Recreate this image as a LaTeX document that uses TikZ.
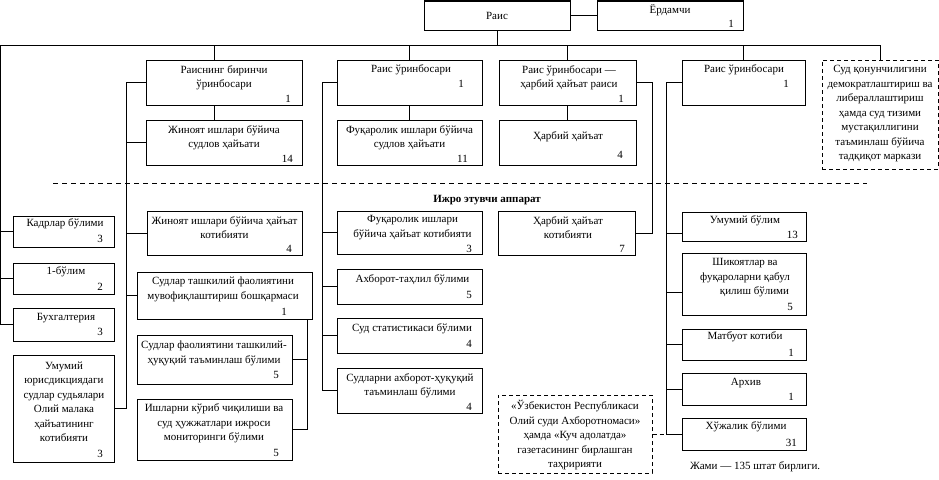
\documentclass[tikz,border=0pt]{standalone}
\usepackage{fontspec}
\setmainfont{Liberation Serif}
\begin{document}
\begin{tikzpicture}[x=1pt, y=-1pt,
  box/.style={draw, line width=1pt, inner sep=0pt},
  dbox/.style={box, dash pattern=on 4pt off 3pt},
  txt/.style={align=center, inner sep=0pt, font=\fontsize{11}{14.5}\selectfont},
  num/.style={anchor=east, inner sep=0pt, font=\fontsize{11}{14.5}\selectfont},
  link/.style={line width=1pt}]

\useasboundingbox (0,0) rectangle (939,479);

% Top
\node[box, minimum width=146, minimum height=29] (rais) at (497,15.5) {};
\node[txt] (rais-t) at (497,16) {Раис};
\node[box, minimum width=146, minimum height=29] (yord) at (670,15.5) {};
\node[txt] (yord-t) at (670,10) {Ёрдамчи};
\node[num] (yord-n) at (734,24) {1};

% Deputies
\node[box, minimum width=156, minimum height=45] (fd) at (224,82.5) {};
\node[txt] (fd-t) at (224,77.5) {Раиснинг биринчи\\ ўринбосари};
\node[num] (fd-n) at (291,99) {1};
\node[box, minimum width=145, minimum height=45] (d1) at (409.5,82.5) {};
\node[txt] (d1-t) at (411,70) {Раис ўринбосари};
\node[num] (d1-n) at (464,84) {1};
\node[box, minimum width=137, minimum height=45] (dm) at (567.5,82.5) {};
\node[txt] (dm-t) at (569,77.5) {Раис ўринбосари —\\ ҳарбий ҳайъат раиси};
\node[num] (dm-n) at (624,99) {1};
\node[box, minimum width=123, minimum height=45] (d2) at (743.5,82.5) {};
\node[txt] (d2-t) at (744,70) {Раис ўринбосари};
\node[num] (d2-n) at (789,84) {1};
\node[dbox, minimum width=116, minimum height=109] (rc) at (880,114.5) {};
\node[txt] (rc-t) at (880,114) {Суд қонунчилигини\\ демократлаштириш ва\\ либераллаштириш\\ ҳамда суд тизими\\ мустақиллигини\\ таъминлаш бўйича\\ тадқиқот маркази};

% Boards
\node[box, minimum width=156, minimum height=45] (fc) at (224,142.5) {};
\node[txt] (fc-t) at (224,137.5) {Жиноят ишлари бўйича\\ судлов ҳайъати};
\node[num] (fc-n) at (293,159) {14};
\node[box, minimum width=145, minimum height=45] (cc) at (409.5,142.5) {};
\node[txt] (cc-t) at (409.5,137.5) {Фуқаролик ишлари бўйича\\ судлов ҳайъати};
\node[num] (cc-n) at (468,159) {11};
\node[box, minimum width=137, minimum height=45] (mc) at (567.5,142.5) {};
\node[txt] (mc-t) at (568,137) {Ҳарбий ҳайъат};
\node[num] (mc-n) at (623,155) {4};

% Separator
\draw[link, dash pattern=on 5pt off 4pt] (53,183) -- (867,183);
\node[txt, font=\fontsize{11}{14.5}\selectfont\bfseries] (apparat) at (487,200) {Ижро этувчи аппарат};

% Left column
\node[box, minimum width=101, minimum height=31] (kb) at (63.5,231.5) {};
\node[txt] (kb-t) at (65,224) {Кадрлар бўлими};
\node[num] (kb-n) at (103,239) {3};
\node[box, minimum width=101, minimum height=31] (b1) at (63.5,278.5) {};
\node[txt] (b1-t) at (66,272) {1-бўлим};
\node[num] (b1-n) at (103,287) {2};
\node[box, minimum width=101, minimum height=33] (bx) at (63.5,324.5) {};
\node[txt] (bx-t) at (66,318) {Бухгалтерия};
\node[num] (bx-n) at (103,332) {3};
\node[box, minimum width=101, minimum height=107] (uj) at (63.5,408.5) {};
\node[txt] (uj-t) at (64,402) {Умумий\\ юрисдикциядаги\\ судлар судьялари\\ Олий малака\\ ҳайъатининг\\ котибияти};
\node[num] (uj-n) at (103,454) {3};

% First deputy column
\node[box, minimum width=155, minimum height=44] (fs) at (224.5,233) {};
\node[txt] (fs-t) at (224.5,227.5) {Жиноят ишлари бўйича ҳайъат\\ котибияти};
\node[num] (fs-n) at (292,249) {4};
\node[box, minimum width=175, minimum height=47] (st) at (224.5,295.5) {};
\node[txt] (st-t) at (223,289.5) {Судлар ташкилий фаолиятини\\ мувофиқлаштириш бошқармаси};
\node[num] (st-n) at (287,312) {1};
\node[box, minimum width=155, minimum height=49] (sf) at (214.5,359.5) {};
\node[txt] (sf-t) at (214,353.5) {Судлар фаолиятини ташкилий-\\ҳуқуқий таъминлаш бўлими};
\node[num] (sf-n) at (279,375) {5};
\node[box, minimum width=155, minimum height=61] (ik) at (214.5,429.5) {};
\node[txt] (ik-t) at (214,423.5) {Ишларни кўриб чиқилиши ва\\ суд ҳужжатлари ижроси\\ мониторинги бўлими};
\node[num] (ik-n) at (279,453) {5};

% Second deputy column
\node[box, minimum width=145, minimum height=43] (cs) at (409.5,232.5) {};
\node[txt] (cs-t) at (412.5,227.5) {Фуқаролик ишлари\\ бўйича ҳайъат котибияти};
\node[num] (cs-n) at (472,249) {3};
\node[box, minimum width=145, minimum height=35] (ax) at (409.5,286.5) {};
\node[txt] (ax-t) at (412.5,280) {Ахборот-таҳлил бўлими};
\node[num] (ax-n) at (472,295) {5};
\node[box, minimum width=145, minimum height=35] (ss) at (409.5,335.5) {};
\node[txt] (ss-t) at (412,329) {Суд статистикаси бўлими};
\node[num] (ss-n) at (472,344) {4};
\node[box, minimum width=145, minimum height=45] (ah) at (409.5,390.5) {};
\node[txt] (ah-t) at (410,385.5) {Судларни ахборот-ҳуқуқий\\ таъминлаш бўлими};
\node[num] (ah-n) at (472,407) {4};

% Military secretariat and newspaper
\node[box, minimum width=137, minimum height=44] (ms) at (566.5,233) {};
\node[txt] (ms-t) at (568,227.5) {Ҳарбий ҳайъат\\ котибияти};
\node[num] (ms-n) at (625,249) {7};
\node[dbox, minimum width=154, minimum height=78] (gz) at (575,434) {};
\node[txt] (gz-t) at (575,435.5) {«Ўзбекистон Республикаси\\ Олий суди Ахборотномаси»\\ ҳамда «Куч адолатда»\\ газетасининг бирлашган\\ таҳририяти};

% Right column
\node[box, minimum width=124, minimum height=29] (ub) at (744,226.5) {};
\node[txt] (ub-t) at (745,221) {Умумий бўлим};
\node[num] (ub-n) at (798,235) {13};
\node[box, minimum width=124, minimum height=62] (sh) at (744,284) {};
\node[txt] (sh-t) at (745,278) {Шикоятлар ва\\ фуқароларни қабул\\ \hspace*{19pt}қилиш бўлими};
\node[num] (sh-n) at (793,307) {5};
\node[box, minimum width=124, minimum height=31] (mk) at (744,344.5) {};
\node[txt] (mk-t) at (745,337) {Матбуот котиби};
\node[num] (mk-n) at (794,353) {1};
\node[box, minimum width=124, minimum height=32] (ar) at (744,389) {};
\node[txt] (ar-t) at (746,383) {Архив};
\node[num] (ar-n) at (794,397) {1};
\node[box, minimum width=124, minimum height=32] (xb) at (744,434) {};
\node[txt] (xb-t) at (746,427) {Хўжалик бўлими};
\node[num] (xb-n) at (797,443) {31};
\node[txt, anchor=west] (total) at (690,467) {Жами — 135 штат бирлиги.};

% Main bus
\coordinate (bus) at ([yshift=-15pt]rais.south);
\draw[link] (rais.east) -- (yord.west);
\draw[link] (rais.south) -- (bus);
\draw[link] (bx.west) -- ++(-12,0) |- (bus) -| (rc.north);
\draw[link] (kb.west) -- ++(-12,0);
\draw[link] (b1.west) -- ++(-12,0);
\draw[link] ([xshift=-10pt]fd.north) |- (bus);
\draw[link] (d1.north) |- (bus);
\draw[link] (dm.north) |- (bus);
\draw[link] (d2.north) |- (bus);
\draw[link] ([xshift=-10pt]fd.south) -- ([xshift=-10pt]fc.north);
\draw[link] (d1.south) -- (cc.north);
\draw[link] (dm.south) -- (mc.north);

% First deputy links
\coordinate (fdv) at ([xshift=-19pt]fd.west);
\draw[link] (fd.west) -- (fdv) |- (uj.east);
\draw[link] (fc.west) -- (fc.west -| fdv);
\draw[link] (fs.west) -- (fs.west -| fdv);
\draw[link] (st.west) -- (st.west -| fdv);
\draw[link] (st.south east) ++(-5,0) |- (sf.east);
\draw[link] (st.south east) ++(-5,0) |- (ik.east);

% Second deputy links
\coordinate (d1v) at ([xshift=-14pt]d1.west);
\draw[link] (d1.west) -- (d1v) |- (ah.west);
\draw[link] (cs.west) -- (cs.west -| d1v);
\draw[link] (ax.west) -- (ax.west -| d1v);
\draw[link] (ss.west) -- (ss.west -| d1v);

% Military links
\draw[link] (dm.east) -- ++(16,0) |- (ms.east);

% Right deputy links
\coordinate (d2v) at ([xshift=-15pt]d2.west);
\draw[link] (d2.west) -- (d2v) |- (xb.west);
\draw[link] ([yshift=-7pt]ub.west) -| (d2v);
\draw[link] ([yshift=-8pt]sh.west) -| (d2v);
\draw[link] (mk.west) -- (mk.west -| d2v);
\draw[link] (ar.west) -- (ar.west -| d2v);
\draw[link, dash pattern=on 4pt off 3pt] (gz.east) -- (gz.east -| d2v);

\end{tikzpicture}
\end{document}
